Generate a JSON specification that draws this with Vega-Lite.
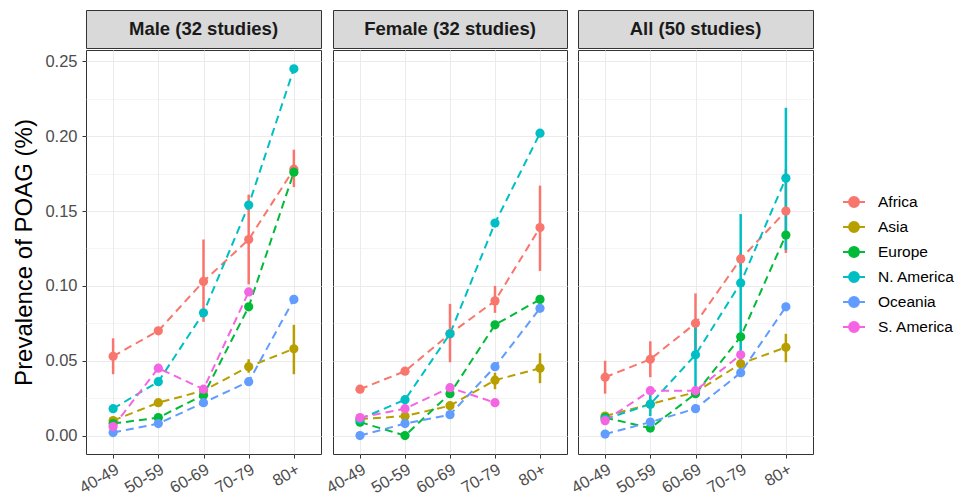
{
  "$schema": "https://vega.github.io/schema/vega-lite/v6.json",
  "padding": {"left": 12, "top": 9, "right": 5, "bottom": 2},
  "background": "white",
  "spacing": 0,
  "config": {
    "font": "Liberation Sans",
    "axis": {"labelFont": "Liberation Sans", "titleFont": "Liberation Sans", "labelColor": "#4d4d4d", "labelFontSize": 16.5, "tickColor": "#333333", "tickSize": 4, "labelPadding": 5, "domain": false, "gridColor": "#ebebeb"},
    "legend": {"labelFont": "Liberation Sans"}
  },
  "datasets": {
    "d": [
      {"g": "Male", "r": "Africa", "a": "40-49", "p": 0.053, "lo": 0.041, "hi": 0.065},
      {"g": "Male", "r": "Africa", "a": "50-59", "p": 0.070},
      {"g": "Male", "r": "Africa", "a": "60-69", "p": 0.103, "lo": 0.076, "hi": 0.131},
      {"g": "Male", "r": "Africa", "a": "70-79", "p": 0.131, "lo": 0.101, "hi": 0.161},
      {"g": "Male", "r": "Africa", "a": "80+", "p": 0.178, "lo": 0.166, "hi": 0.191},
      {"g": "Male", "r": "Asia", "a": "40-49", "p": 0.010},
      {"g": "Male", "r": "Asia", "a": "50-59", "p": 0.022},
      {"g": "Male", "r": "Asia", "a": "60-69", "p": 0.030},
      {"g": "Male", "r": "Asia", "a": "70-79", "p": 0.046, "lo": 0.042, "hi": 0.051},
      {"g": "Male", "r": "Asia", "a": "80+", "p": 0.058, "lo": 0.041, "hi": 0.074},
      {"g": "Male", "r": "Europe", "a": "40-49", "p": 0.008},
      {"g": "Male", "r": "Europe", "a": "50-59", "p": 0.012},
      {"g": "Male", "r": "Europe", "a": "60-69", "p": 0.027},
      {"g": "Male", "r": "Europe", "a": "70-79", "p": 0.086},
      {"g": "Male", "r": "Europe", "a": "80+", "p": 0.176},
      {"g": "Male", "r": "N. America", "a": "40-49", "p": 0.018},
      {"g": "Male", "r": "N. America", "a": "50-59", "p": 0.036},
      {"g": "Male", "r": "N. America", "a": "60-69", "p": 0.082},
      {"g": "Male", "r": "N. America", "a": "70-79", "p": 0.154},
      {"g": "Male", "r": "N. America", "a": "80+", "p": 0.245},
      {"g": "Male", "r": "Oceania", "a": "40-49", "p": 0.002},
      {"g": "Male", "r": "Oceania", "a": "50-59", "p": 0.008},
      {"g": "Male", "r": "Oceania", "a": "60-69", "p": 0.022},
      {"g": "Male", "r": "Oceania", "a": "70-79", "p": 0.036},
      {"g": "Male", "r": "Oceania", "a": "80+", "p": 0.091},
      {"g": "Male", "r": "S. America", "a": "40-49", "p": 0.006},
      {"g": "Male", "r": "S. America", "a": "50-59", "p": 0.045},
      {"g": "Male", "r": "S. America", "a": "60-69", "p": 0.031},
      {"g": "Male", "r": "S. America", "a": "70-79", "p": 0.096},

      {"g": "Female", "r": "Africa", "a": "40-49", "p": 0.031},
      {"g": "Female", "r": "Africa", "a": "50-59", "p": 0.043},
      {"g": "Female", "r": "Africa", "a": "60-69", "p": 0.068, "lo": 0.049, "hi": 0.088},
      {"g": "Female", "r": "Africa", "a": "70-79", "p": 0.090, "lo": 0.082, "hi": 0.100},
      {"g": "Female", "r": "Africa", "a": "80+", "p": 0.139, "lo": 0.110, "hi": 0.167},
      {"g": "Female", "r": "Asia", "a": "40-49", "p": 0.011},
      {"g": "Female", "r": "Asia", "a": "50-59", "p": 0.013},
      {"g": "Female", "r": "Asia", "a": "60-69", "p": 0.020},
      {"g": "Female", "r": "Asia", "a": "70-79", "p": 0.037, "lo": 0.031, "hi": 0.042},
      {"g": "Female", "r": "Asia", "a": "80+", "p": 0.045, "lo": 0.035, "hi": 0.055},
      {"g": "Female", "r": "Europe", "a": "40-49", "p": 0.009},
      {"g": "Female", "r": "Europe", "a": "50-59", "p": 0.000},
      {"g": "Female", "r": "Europe", "a": "60-69", "p": 0.028},
      {"g": "Female", "r": "Europe", "a": "70-79", "p": 0.074},
      {"g": "Female", "r": "Europe", "a": "80+", "p": 0.091},
      {"g": "Female", "r": "N. America", "a": "40-49", "p": 0.011},
      {"g": "Female", "r": "N. America", "a": "50-59", "p": 0.024},
      {"g": "Female", "r": "N. America", "a": "60-69", "p": 0.068},
      {"g": "Female", "r": "N. America", "a": "70-79", "p": 0.142},
      {"g": "Female", "r": "N. America", "a": "80+", "p": 0.202},
      {"g": "Female", "r": "Oceania", "a": "40-49", "p": 0.000},
      {"g": "Female", "r": "Oceania", "a": "50-59", "p": 0.008},
      {"g": "Female", "r": "Oceania", "a": "60-69", "p": 0.014},
      {"g": "Female", "r": "Oceania", "a": "70-79", "p": 0.046},
      {"g": "Female", "r": "Oceania", "a": "80+", "p": 0.085},
      {"g": "Female", "r": "S. America", "a": "40-49", "p": 0.012},
      {"g": "Female", "r": "S. America", "a": "50-59", "p": 0.018},
      {"g": "Female", "r": "S. America", "a": "60-69", "p": 0.032},
      {"g": "Female", "r": "S. America", "a": "70-79", "p": 0.022},

      {"g": "All", "r": "Africa", "a": "40-49", "p": 0.039, "lo": 0.028, "hi": 0.050},
      {"g": "All", "r": "Africa", "a": "50-59", "p": 0.051, "lo": 0.039, "hi": 0.063},
      {"g": "All", "r": "Africa", "a": "60-69", "p": 0.075, "lo": 0.052, "hi": 0.095},
      {"g": "All", "r": "Africa", "a": "70-79", "p": 0.118, "lo": 0.113, "hi": 0.122},
      {"g": "All", "r": "Africa", "a": "80+", "p": 0.150, "lo": 0.122, "hi": 0.178},
      {"g": "All", "r": "Asia", "a": "40-49", "p": 0.013},
      {"g": "All", "r": "Asia", "a": "50-59", "p": 0.021},
      {"g": "All", "r": "Asia", "a": "60-69", "p": 0.029},
      {"g": "All", "r": "Asia", "a": "70-79", "p": 0.048},
      {"g": "All", "r": "Asia", "a": "80+", "p": 0.059, "lo": 0.049, "hi": 0.068},
      {"g": "All", "r": "Europe", "a": "40-49", "p": 0.012},
      {"g": "All", "r": "Europe", "a": "50-59", "p": 0.005},
      {"g": "All", "r": "Europe", "a": "60-69", "p": 0.028},
      {"g": "All", "r": "Europe", "a": "70-79", "p": 0.066},
      {"g": "All", "r": "Europe", "a": "80+", "p": 0.134},
      {"g": "All", "r": "N. America", "a": "40-49", "p": 0.011},
      {"g": "All", "r": "N. America", "a": "50-59", "p": 0.021, "lo": 0.013, "hi": 0.029},
      {"g": "All", "r": "N. America", "a": "60-69", "p": 0.054, "lo": 0.029, "hi": 0.078},
      {"g": "All", "r": "N. America", "a": "70-79", "p": 0.102, "lo": 0.042, "hi": 0.148},
      {"g": "All", "r": "N. America", "a": "80+", "p": 0.172, "lo": 0.124, "hi": 0.219},
      {"g": "All", "r": "Oceania", "a": "40-49", "p": 0.001},
      {"g": "All", "r": "Oceania", "a": "50-59", "p": 0.009},
      {"g": "All", "r": "Oceania", "a": "60-69", "p": 0.018},
      {"g": "All", "r": "Oceania", "a": "70-79", "p": 0.042},
      {"g": "All", "r": "Oceania", "a": "80+", "p": 0.086},
      {"g": "All", "r": "S. America", "a": "40-49", "p": 0.010},
      {"g": "All", "r": "S. America", "a": "50-59", "p": 0.030},
      {"g": "All", "r": "S. America", "a": "60-69", "p": 0.030},
      {"g": "All", "r": "S. America", "a": "70-79", "p": 0.054}
    ]
  },
  "hconcat": [
    {
      "spacing": 0,
      "vconcat": [
        {"width": 235, "height": 38, "data": {"values": [{"t": "Male (32 studies)"}]}, "view": {"fill": "#d9d9d9", "stroke": "#333333"},
         "mark": {"type": "text", "fontSize": 18.5, "fontWeight": "bold", "color": "#1a1a1a", "baseline": "middle", "align": "center"},
         "encoding": {"text": {"field": "t"}}},
        {"width": 235, "height": 404, "data": {"name": "d"}, "transform": [{"filter": "datum.g == 'Male'"}], "view": {"stroke": "#333333"},
         "encoding": {
           "x": {"field": "a", "type": "ordinal", "sort": ["40-49", "50-59", "60-69", "70-79", "80+"], "scale": {"type": "point", "padding": 0.6},
                 "axis": {"title": null, "labelAngle": -30, "labelAlign": "right", "labelBaseline": "top", "labelPadding": 3, "grid": true, "gridWidth": 1}},
           "color": {"field": "r", "type": "nominal", "scale": {"domain": ["Africa", "Asia", "Europe", "N. America", "Oceania", "S. America"], "range": ["#F8766D", "#B79F00", "#00BA38", "#00BFC4", "#619CFF", "#F564E3"]},
                     "legend": {"title": null, "orient": "none", "legendX": 756, "legendY": 180, "labelFontSize": 15.5, "labelColor": "#000000", "symbolType": "M-1,0L1,0M-0.45,0A0.45,0.45,0,1,1,0.45,0A0.45,0.45,0,1,1,-0.45,0Z", "symbolSize": 484, "symbolStrokeWidth": 2, "rowPadding": 4, "labelOffset": 12, "encode": {"symbols": {"update": {"stroke": {"scale": "color", "field": "value"}, "fill": {"scale": "color", "field": "value"}, "strokeDash": {"value": []}, "opacity": {"value": 1}}}}}}
         },
         "layer": [
           {"mark": {"type": "line", "strokeDash": [8, 5], "strokeWidth": 2},
            "encoding": {"y": {"field": "p", "type": "quantitative", "scale": {"domain": [-0.0123, 0.2576], "nice": false, "zero": false},
              "axis": {"title": "Prevalence of POAG (%)", "titleFontSize": 24, "titleFontWeight": "normal", "titleColor": "#000000", "titlePadding": 8,
                       "values": [0, 0.025, 0.05, 0.075, 0.1, 0.125, 0.15, 0.175, 0.2, 0.225, 0.25],
                       "labelExpr": "round(datum.value*40)%2==1 ? '' : format(datum.value, '.2f')",
                       "tickOpacity": {"condition": {"test": "round(datum.value*40)%2==1", "value": 0}, "value": 1},
                       "gridWidth": {"condition": {"test": "round(datum.value*40)%2==1", "value": 0.5}, "value": 1}}}}},
           {"transform": [{"filter": "datum.lo != null"}], "mark": {"type": "rule", "strokeWidth": 2.5},
            "encoding": {"y": {"field": "lo", "type": "quantitative"}, "y2": {"field": "hi"}}},
           {"mark": {"type": "circle", "size": 85, "opacity": 1},
            "encoding": {"y": {"field": "p", "type": "quantitative"}}}
         ]}
      ]
    },
    {
      "spacing": 0,
      "vconcat": [
        {"width": 234, "height": 38, "data": {"values": [{"t": "Female (32 studies)"}]}, "view": {"fill": "#d9d9d9", "stroke": "#333333"},
         "mark": {"type": "text", "fontSize": 18.5, "fontWeight": "bold", "color": "#1a1a1a", "baseline": "middle", "align": "center"},
         "encoding": {"text": {"field": "t"}}},
        {"width": 234, "height": 404, "data": {"name": "d"}, "transform": [{"filter": "datum.g == 'Female'"}], "view": {"stroke": "#333333"},
         "encoding": {
           "x": {"field": "a", "type": "ordinal", "sort": ["40-49", "50-59", "60-69", "70-79", "80+"], "scale": {"type": "point", "padding": 0.6},
                 "axis": {"title": null, "labelAngle": -30, "labelAlign": "right", "labelBaseline": "top", "labelPadding": 3, "grid": true, "gridWidth": 1}},
           "color": {"field": "r", "type": "nominal"}
         },
         "layer": [
           {"mark": {"type": "line", "strokeDash": [8, 5], "strokeWidth": 2},
            "encoding": {"y": {"field": "p", "type": "quantitative", "scale": {"domain": [-0.0123, 0.2576], "nice": false, "zero": false},
              "axis": {"title": null, "labels": false, "ticks": false,
                       "values": [0, 0.025, 0.05, 0.075, 0.1, 0.125, 0.15, 0.175, 0.2, 0.225, 0.25],
                       "gridWidth": {"condition": {"test": "round(datum.value*40)%2==1", "value": 0.5}, "value": 1}}}}},
           {"transform": [{"filter": "datum.lo != null"}], "mark": {"type": "rule", "strokeWidth": 2.5},
            "encoding": {"y": {"field": "lo", "type": "quantitative"}, "y2": {"field": "hi"}}},
           {"mark": {"type": "circle", "size": 85, "opacity": 1},
            "encoding": {"y": {"field": "p", "type": "quantitative"}}}
         ]}
      ]
    },
    {
      "spacing": 0,
      "vconcat": [
        {"width": 235, "height": 38, "data": {"values": [{"t": "All (50 studies)"}]}, "view": {"fill": "#d9d9d9", "stroke": "#333333"},
         "mark": {"type": "text", "fontSize": 18.5, "fontWeight": "bold", "color": "#1a1a1a", "baseline": "middle", "align": "center"},
         "encoding": {"text": {"field": "t"}}},
        {"width": 235, "height": 404, "data": {"name": "d"}, "transform": [{"filter": "datum.g == 'All'"}], "view": {"stroke": "#333333"},
         "encoding": {
           "x": {"field": "a", "type": "ordinal", "sort": ["40-49", "50-59", "60-69", "70-79", "80+"], "scale": {"type": "point", "padding": 0.6},
                 "axis": {"title": null, "labelAngle": -30, "labelAlign": "right", "labelBaseline": "top", "labelPadding": 3, "grid": true, "gridWidth": 1}},
           "color": {"field": "r", "type": "nominal"}
         },
         "layer": [
           {"mark": {"type": "line", "strokeDash": [8, 5], "strokeWidth": 2},
            "encoding": {"y": {"field": "p", "type": "quantitative", "scale": {"domain": [-0.0123, 0.2576], "nice": false, "zero": false},
              "axis": {"title": null, "labels": false, "ticks": false,
                       "values": [0, 0.025, 0.05, 0.075, 0.1, 0.125, 0.15, 0.175, 0.2, 0.225, 0.25],
                       "gridWidth": {"condition": {"test": "round(datum.value*40)%2==1", "value": 0.5}, "value": 1}}}}},
           {"transform": [{"filter": "datum.lo != null"}], "mark": {"type": "rule", "strokeWidth": 2.5},
            "encoding": {"y": {"field": "lo", "type": "quantitative"}, "y2": {"field": "hi"}}},
           {"mark": {"type": "circle", "size": 85, "opacity": 1},
            "encoding": {"y": {"field": "p", "type": "quantitative"}}}
         ]}
      ]
    }
  ]
}
